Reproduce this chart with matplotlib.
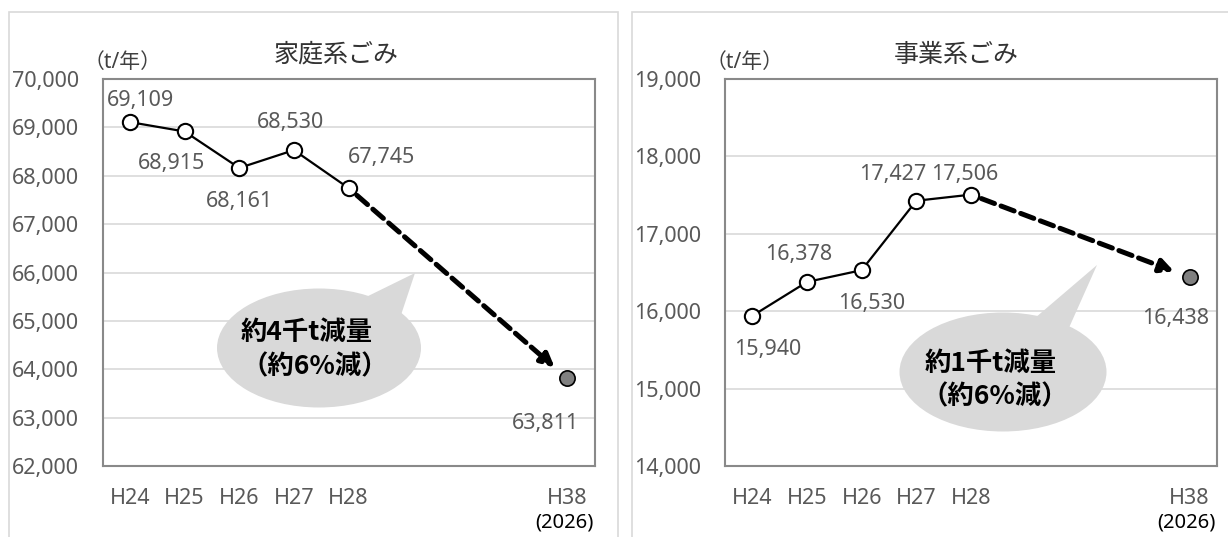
import matplotlib
matplotlib.use("Agg")
import matplotlib.pyplot as plt
import matplotlib.transforms as mtransforms
from matplotlib.patches import Ellipse, Polygon, Rectangle

plt.rcParams['font.family'] = ['Noto Sans', 'Noto Sans CJK JP', 'DejaVu Sans']

# data
years = ["H24", "H25", "H26", "H27", "H28", "", "", "", "H38"]
x_actual = [0, 1, 2, 3, 4]
x_target = 8

home_actual = [69109, 68915, 68161, 68530, 67745]
home_target = 63811
biz_actual = [15940, 16378, 16530, 17427, 17506]
biz_target = 16438

home_title = "家庭系ごみ"
biz_title = "事業系ごみ"
home_note = ["約4千t減量", "（約6%減）"]
biz_note = ["約1千t減量", "（約6%減）"]

W, H = 1228, 537
fig = plt.figure(figsize=(W / 100, H / 100), dpi=100)


def fx(x):
    return x / W


def fy(y):
    return 1 - y / H


# outer chart frames
for x0, x1 in [(9, 618), (632, 1240)]:
    fig.add_artist(Rectangle((fx(x0), fy(560)), fx(x1 - x0), (560 - 12) / H,
                             transform=fig.transFigure, fill=False,
                             edgecolor="#d9d9d9", lw=1.2))


def draw_chart(left, actual, target, ylim, title, title_x, note, bubble,
               label_off):
    ax = fig.add_axes([fx(left), fy(466), fx(492), 387 / H])
    ax.set_xlim(-0.5, 8.5)
    ax.set_ylim(*ylim)
    ax.set_yticks(range(ylim[0], ylim[1] + 1, 1000))
    ax.yaxis.set_major_formatter(matplotlib.ticker.StrMethodFormatter("{x:,.0f}"))
    ax.set_xticks(range(len(years)))
    ax.set_xticklabels(years)
    ax.tick_params(length=0, labelsize=15.5, labelcolor="#595959")
    ax.tick_params(axis="y", pad=17)
    ax.tick_params(axis="x", pad=16)
    ax.grid(axis="y", color="#d9d9d9", lw=1.2)
    ax.set_axisbelow(True)
    for s in ax.spines.values():
        s.set_color("#898989")
        s.set_linewidth(1.5)

    ax.plot(x_actual, actual, color="black", lw=1.6, marker="o", ms=11,
            mfc="white", mec="black", mew=1.5, zorder=3)
    ax.plot([x_target], [target], marker="o", ms=11, mfc="#808080",
            mec="black", mew=1.2, ls="none", zorder=3)
    ax.annotate("", xy=(x_target, target), xytext=(x_actual[-1], actual[-1]),
                arrowprops=dict(arrowstyle="-|>,head_length=0.8,head_width=0.4",
                                color="black", lw=3.6, ls=(0, (2.8, 1.4)),
                                shrinkA=8, shrinkB=12), zorder=2)

    vals = list(actual) + [target]
    xs = list(x_actual) + [x_target]
    for xv, v, (dx, dy) in zip(xs, vals, label_off):
        ax.annotate(f"{v:,}", (xv, v), xytext=(dx, -dy),
                    textcoords="offset pixels", ha="center", va="center",
                    fontsize=15.5, color="#595959")

    trans = mtransforms.blended_transform_factory(ax.transData, ax.transAxes)
    ax.text(x_target - 0.05, -0.147, "(2026)", transform=trans, ha="center",
            va="center", fontsize=14.5, color="black")

    fig.text(fx(title_x), fy(55), title, ha="center", va="center",
             fontsize=18, color="#333333")
    fig.text(fx(left + 20), fy(63), "（t/年）", ha="center", va="center",
             fontsize=15, color="#404040")

    (cx, cy, ew, eh), wedge, t1, t2 = bubble
    fig.add_artist(Ellipse((fx(cx), fy(cy)), fx(ew), eh / H,
                           transform=fig.transFigure, facecolor="#d9d9d9",
                           edgecolor="none"))
    fig.add_artist(Polygon([(fx(a), fy(b)) for a, b in wedge],
                           transform=fig.transFigure, facecolor="#d9d9d9",
                           edgecolor="none"))
    for txt, (tx, ty) in zip(note, [t1, t2]):
        fig.text(fx(tx), fy(ty), txt, ha="center", va="center",
                 fontsize=19, fontweight="bold", color="black",
                 family=["Noto Sans CJK JP", "DejaVu Sans"])
    return ax


draw_chart(102.6, home_actual, home_target, (62000, 70000), home_title, 336,
           home_note,
           ((319, 348, 204, 119), [(360, 300), (400, 318), (415, 273)],
            (307, 332), (315, 367)),
           [(11, -22), (-13, 32), (0, 34), (-3, -28), (33, -31), (-22, 45)])

draw_chart(725, biz_actual, biz_target, (14000, 19000), biz_title, 956,
           biz_note,
           ((1003, 372, 207, 119), [(1035, 318), (1068, 330), (1097, 265)],
            (991, 363), (995, 397)),
           [(15, 34), (-8, -27), (10, 33), (-24, -26), (-6, -20), (-14, 41)])

plt.savefig("out.png", dpi=100)
